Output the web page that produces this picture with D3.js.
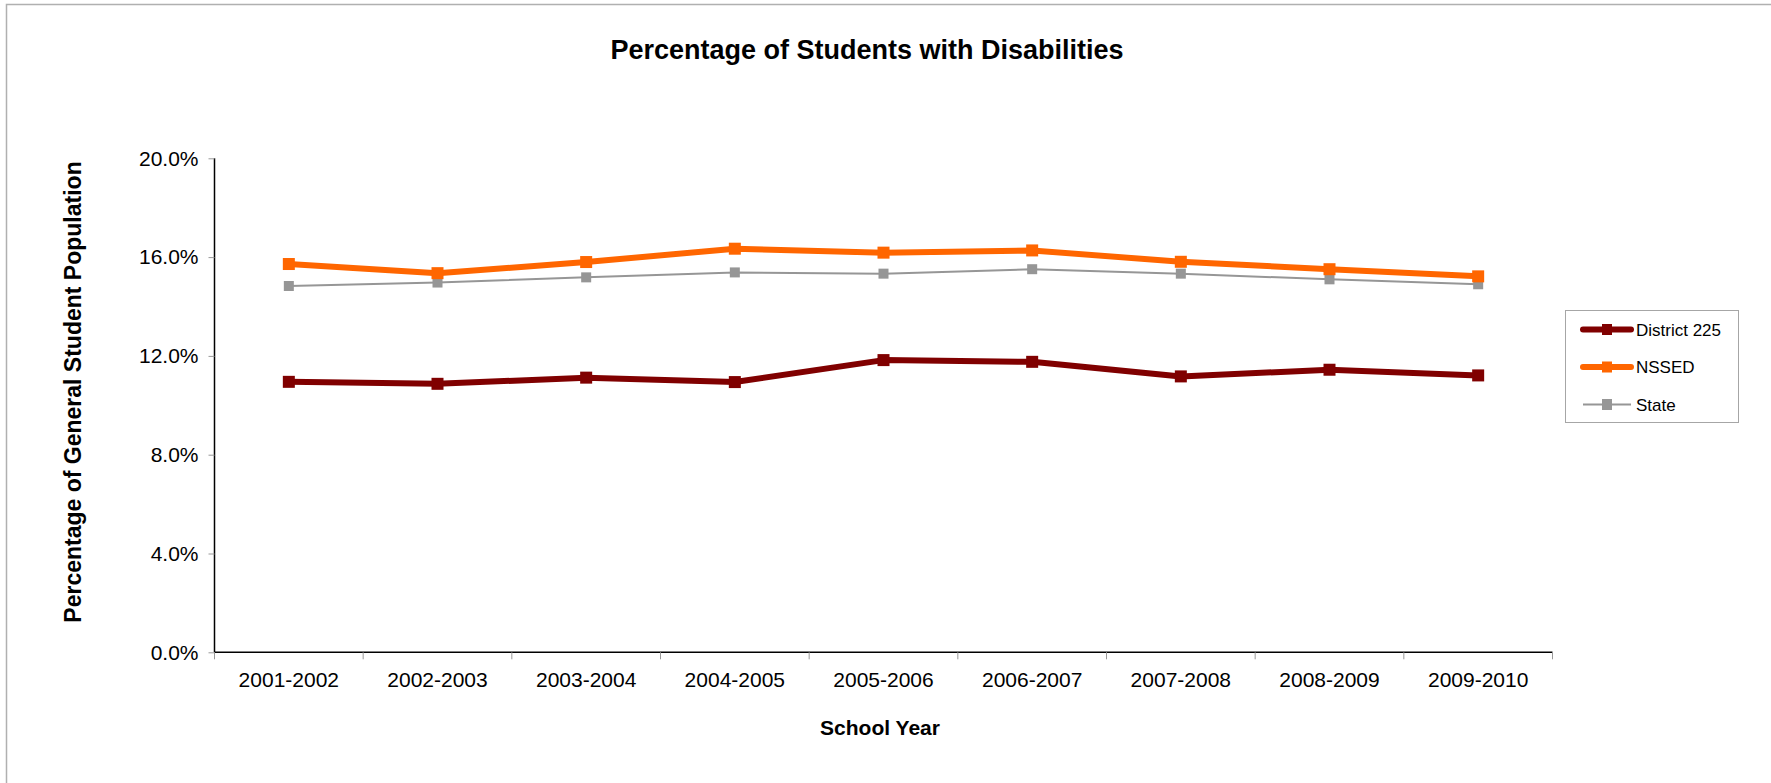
<!DOCTYPE html>
<html><head><meta charset="utf-8">
<script src="https://cdn.jsdelivr.net/npm/d3@7/dist/d3.min.js"></script>
<style>body{margin:0;background:#fff;font-family:"Liberation Sans",Arial,sans-serif;}</style>
</head><body>
<svg id="chart" width="1771" height="783"></svg>
<script>
const categories = ["2001-2002","2002-2003","2003-2004","2004-2005","2005-2006","2006-2007","2007-2008","2008-2009","2009-2010"];
const district225 = [10.95,10.87,11.12,10.94,11.83,11.76,11.17,11.44,11.21];
const nssed = [15.72,15.35,15.80,16.34,16.18,16.27,15.81,15.51,15.22];
const state = [14.83,14.97,15.18,15.38,15.33,15.51,15.33,15.10,14.90];
const yTicks = [0,4,8,12,16,20];
const seriesNames = ["District 225","NSSED","State"];

(function(){
const series = [
  {name: seriesNames[0], values: district225, color: "#800000", width: 6, marker: 12},
  {name: seriesNames[1], values: nssed, color: "#FF6600", width: 6, marker: 12},
  {name: seriesNames[2], values: state, color: "#969696", width: 2, marker: 10}
];

const svg = d3.select("#chart");
svg.append("rect").attr("x",6.5).attr("y",4.5).attr("width",1800).attr("height",800)
  .attr("fill","none").attr("stroke","#b0b0b0").attr("stroke-width",1.5);

const pL = 214.5, pR = 1552.5, pT = 158.3, pB = 652.3;
const x = d3.scaleBand().domain(categories).range([pL, pR]);
const y = d3.scaleLinear().domain([0,20]).range([pB, pT]);

const yAxis = d3.axisLeft(y).tickValues(yTicks).tickFormat(d => d.toFixed(1) + "%").tickSize(6).tickPadding(10);
const gy = svg.append("g").attr("transform", `translate(${pL},0)`).call(yAxis);
gy.select(".domain").attr("stroke","#000").attr("stroke-width",1.5).attr("d", `M0,${pT}V${pB}`);
gy.selectAll(".tick line").attr("stroke","#999");
gy.selectAll(".tick text").attr("font-size",21).attr("font-family","Liberation Sans, Arial, sans-serif").attr("fill","#000");

const xAxis = d3.axisBottom(x).tickSize(0).tickPadding(20);
const gx = svg.append("g").attr("transform", `translate(0,${pB})`).call(xAxis);
gx.select(".domain").attr("stroke","#000").attr("stroke-width",1.5).attr("d", `M${pL},0H${pR}`);
gx.selectAll(".tick text").attr("font-size",21).attr("font-family","Liberation Sans, Arial, sans-serif").attr("fill","#000");
const bounds = categories.map(c => x(c)).concat([pR]);
svg.append("g").selectAll("line").data(bounds).join("line")
  .attr("x1", d => d).attr("x2", d => d).attr("y1", pB).attr("y2", pB + 7)
  .attr("stroke","#999").attr("stroke-width",1);

const line = d3.line().x((d,i) => x(categories[i]) + x.bandwidth()/2).y(d => y(d));
const drawOrder = [series[2], series[1], series[0]];
drawOrder.forEach(s => {
  svg.append("path").datum(s.values).attr("d", line).attr("fill","none")
    .attr("stroke", s.color).attr("stroke-width", s.width).attr("stroke-linejoin","round");
  svg.append("g").selectAll("rect").data(s.values).join("rect")
    .attr("x", (d,i) => x(categories[i]) + x.bandwidth()/2 - s.marker/2)
    .attr("y", d => y(d) - s.marker/2)
    .attr("width", s.marker).attr("height", s.marker).attr("fill", s.color);
});

svg.append("text").attr("x", 867).attr("y", 59).attr("text-anchor","middle")
  .attr("font-size",27).attr("font-weight","bold").text("Percentage of Students with Disabilities");
svg.append("text").attr("x", 880).attr("y", 735).attr("text-anchor","middle")
  .attr("font-size",21).attr("font-weight","bold").text("School Year");
svg.append("text").attr("transform", `translate(81,392) rotate(-90)`).attr("text-anchor","middle")
  .attr("font-size",23).attr("font-weight","bold").text("Percentage of General Student Population");

const lg = svg.append("g");
lg.append("rect").attr("x",1565.5).attr("y",310.5).attr("width",173).attr("height",112)
  .attr("fill","#fff").attr("stroke","#a6a6a6").attr("stroke-width",1);
const ly = [329.5, 367, 404.5];
series.forEach((s,i) => {
  lg.append("line").attr("x1",1583).attr("x2",1631).attr("y1",ly[i]).attr("y2",ly[i])
    .attr("stroke", s.color).attr("stroke-width", s.width).attr("stroke-linecap", i<2 ? "round" : "butt");
  lg.append("rect").attr("x", 1607 - 5).attr("y", ly[i] - 5.5).attr("width", 10).attr("height", 11)
    .attr("fill", s.color);
  lg.append("text").attr("x",1636).attr("y",ly[i]+6).attr("font-size",17).text(s.name);
});
})();
</script>
</body></html>
